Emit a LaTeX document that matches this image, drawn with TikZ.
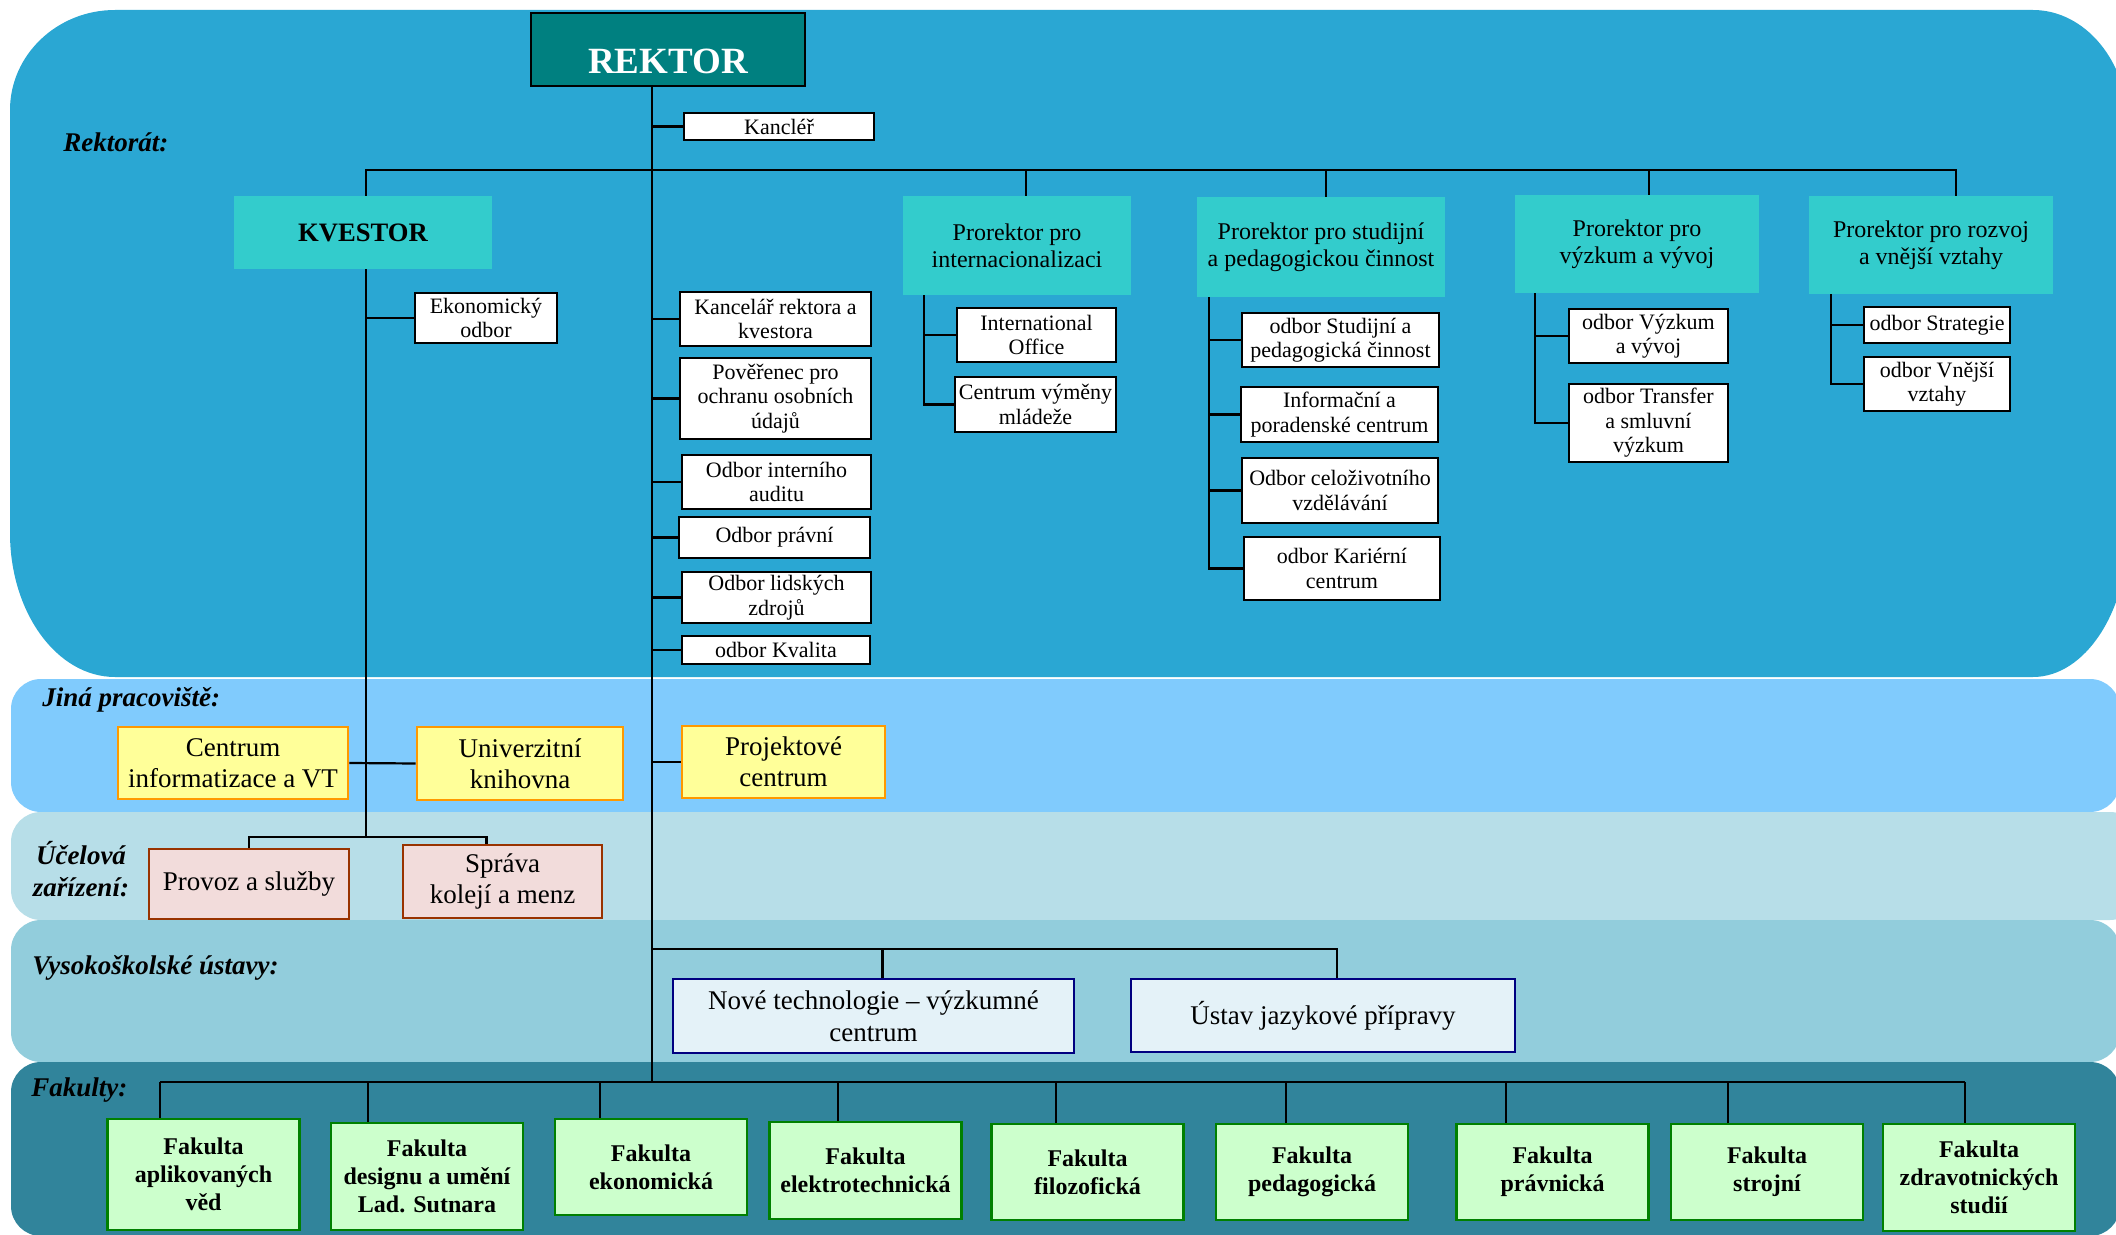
\documentclass[tikz,border=0pt]{standalone}
\usepackage{fontspec}
\setmainfont{Liberation Serif}

\definecolor{rektoratbg}{RGB}{42,167,211}
\definecolor{jinabg}{RGB}{128,203,253}
\definecolor{ucelbg}{RGB}{183,222,232}
\definecolor{vysokbg}{RGB}{146,205,220}
\definecolor{fakbg}{RGB}{49,132,155}
\definecolor{rektorfill}{RGB}{0,128,128}
\definecolor{headfill}{RGB}{51,204,204}
\definecolor{yellowfill}{RGB}{255,255,153}
\definecolor{orangeline}{RGB}{255,153,0}
\definecolor{pinkfill}{RGB}{242,220,219}
\definecolor{brownline}{RGB}{153,51,0}
\definecolor{ustavfill}{RGB}{228,242,248}
\definecolor{navyline}{RGB}{0,0,128}
\definecolor{fakfill}{RGB}{204,255,204}
\definecolor{greenline}{RGB}{0,128,0}

\tikzset{
    band/.style={rounded corners=15pt},
    link/.style={line width=1.1pt, black},
    sz/.style 2 args={minimum width=#1, minimum height=#2},
    rektorbox/.style={draw=black, line width=1pt, fill=rektorfill, text=white, inner sep=0pt, text height=24pt, text depth=0pt, font=\fontsize{18.5}{20}\selectfont\bfseries},
    headbox/.style={fill=headfill, align=center, inner sep=0pt, font=\fontsize{12}{13.5}\selectfont},
    unitbox/.style={draw=black, line width=1pt, fill=white, align=center, inner sep=0pt, font=\fontsize{11}{12.2}\selectfont},
    jinabox/.style={draw=orangeline, line width=1.3pt, fill=yellowfill, align=center, inner sep=0pt, font=\fontsize{13.5}{15.5}\selectfont},
    ucelbox/.style={draw=brownline, line width=1.2pt, fill=pinkfill, align=center, inner sep=0pt, font=\fontsize{13.5}{15.5}\selectfont},
    ustavbox/.style={draw=navyline, line width=1.2pt, fill=ustavfill, align=center, inner sep=0pt, font=\fontsize{13.5}{15.8}\selectfont},
    fakbox/.style={draw=greenline, line width=1.4pt, fill=fakfill, align=center, inner sep=0pt, font=\fontsize{12}{14}\selectfont\bfseries},
    bandlabel/.style={anchor=west, inner sep=0pt, font=\fontsize{13.5}{16}\selectfont\bfseries\itshape},
}

\begin{document}
\begin{tikzpicture}[x=0.5pt, y=-0.5pt]
    \useasboundingbox (0,0) rectangle (2116,1235);
    \clip (0,0) rectangle (2116,1235);

    % bands
    \fill[rektoratbg] (10,110) .. controls (10,55) and (57,10) .. (115,10) -- (2033,10)
        .. controls (2085,10) and (2128,61.5) .. (2128,125) -- (2128,532)
        .. controls (2128,611.5) and (2085,677) .. (2033,677) -- (115,677)
        .. controls (57,677) and (10,612.5) .. (10,533) -- cycle;
    \fill[jinabg, band] (11,679) rectangle (2120,812);
    \fill[ucelbg, band] (11,812) rectangle (2140,920);
    \fill[vysokbg, band] (11,920) rectangle (2120,1062);
    \fill[fakbg, band] (11,1062) rectangle (2120,1236);

    \node[bandlabel] (lrektorat) at (63,142) {Rektorát:};
    \node[bandlabel] (ljina) at (42,700) {Jiná pracoviště:};
    \node[bandlabel, anchor=center, align=center] (lucel) at (81,869) {Účelová\\zařízení:};
    \node[bandlabel] (lvysok) at (32,968) {Vysokoškolské ústavy:};
    \node[bandlabel] (lfak) at (31,1090) {Fakulty:};

    % rektorat
    \node[rektorbox, sz={137pt}{36.5pt}] (rektor) at (668,49.5) {REKTOR};
    \node[unitbox, sz={95pt}{13.5pt}] (kancler) at (779,126.5) {Kancléř};
    \node[headbox, sz={129pt}{36.5pt}, font=\fontsize{13.3}{15}\selectfont\bfseries] (kvestor) at (363,232.5) {KVESTOR};
    \node[unitbox, sz={71pt}{25pt}] (ekonom) at (486,318) {Ekonomický\\odbor};

    \node[unitbox, sz={95.5pt}{27pt}] (kancelar) at (775.5,319) {Kancelář rektora a\\kvestora};
    \node[unitbox, sz={95.5pt}{40.5pt}] (poverenec) at (775.5,398.5) {Pověřenec pro\\ochranu osobních\\údajů};
    \node[unitbox, sz={94.5pt}{27pt}] (audit) at (776.5,482) {Odbor interního\\auditu};
    \node[unitbox, sz={95.5pt}{20.5pt}] (pravni) at (774.5,537.5) {Odbor právní};
    \node[unitbox, sz={94.5pt}{25.5pt}] (lidske) at (776.5,597.5) {Odbor lidských\\zdrojů};
    \node[unitbox, sz={94pt}{14pt}] (kvalita) at (776,650) {odbor Kvalita};

    \node[headbox, sz={114pt}{49.5pt}] (prointer) at (1017,245.5) {Prorektor pro\\internacionalizaci};
    \node[unitbox, sz={79.5pt}{27pt}] (intoffice) at (1036.5,335) {International\\Office};
    \node[unitbox, sz={80.5pt}{27.5pt}] (cvm) at (1035.5,404.5) {Centrum výměny\\mládeže};

    \node[headbox, sz={124pt}{50pt}] (prostud) at (1321,247) {Prorektor pro studijní\\a pedagogickou činnost};
    \node[unitbox, sz={98.5pt}{27pt}] (odstud) at (1340.5,340) {odbor Studijní a\\pedagogická činnost};
    \node[unitbox, sz={98.5pt}{27.5pt}] (infcentrum) at (1339.5,414.5) {Informační a\\poradenské centrum};
    \node[unitbox, sz={98pt}{32.5pt}] (celoziv) at (1340,490.5) {Odbor celoživotního\\vzdělávání};
    \node[unitbox, sz={98pt}{31.5pt}] (karier) at (1342,568.5) {odbor Kariérní\\centrum};

    \node[headbox, sz={122pt}{49pt}] (provyzk) at (1637,244) {Prorektor pro\\výzkum a vývoj};
    \node[unitbox, sz={79.5pt}{27pt}] (odvyzk) at (1648.5,336) {odbor Výzkum\\a vývoj};
    \node[unitbox, sz={79.5pt}{39pt}] (transfer) at (1648.5,423) {odbor Transfer\\a smluvní\\výzkum};

    \node[headbox, sz={122pt}{49pt}] (prorozvoj) at (1931,245) {Prorektor pro rozvoj\\a vnější vztahy};
    \node[unitbox, sz={73pt}{18pt}] (strategie) at (1937,325) {odbor Strategie};
    \node[unitbox, sz={73pt}{27pt}] (vnejsi) at (1937,384) {odbor Vnější\\vztahy};

    % jina pracoviste, ucelova zarizeni, ustavy
    \node[jinabox, sz={115pt}{36pt}] (civt) at (233,763) {Centrum\\informatizace a VT};
    \node[jinabox, sz={103pt}{36.5pt}] (knihovna) at (520,763.5) {Univerzitní\\knihovna};
    \node[jinabox, sz={101.5pt}{36pt}] (projekt) at (783.5,762) {Projektové\\centrum};

    \node[ucelbox, sz={100pt}{35pt}] (provoz) at (249,884) {Provoz a služby};
    \node[ucelbox, sz={99.5pt}{36.5pt}] (sprava) at (502.5,881.5) {Správa\\kolejí a menz};

    \node[ustavbox, sz={200.5pt}{37pt}] (nove) at (873.5,1016) {Nové technologie -- výzkumné\\centrum};
    \node[ustavbox, sz={192pt}{36.5pt}] (ustav) at (1323,1015.5) {Ústav jazykové přípravy};

    % fakulty
    \coordinate (fbar) at (652,1082);
    \foreach \n/\cx/\cy/\h/\off/\txt in {
        1/203.5/1174.5/55.5/-21.75/{Fakulta\\aplikovaných\\věd},
        2/427/1176.5/53.5/-29.5/{Fakulta\\designu a umění\\Lad. Sutnara},
        3/651/1167/48/-25.5/{Fakulta\\ekonomická},
        4/865.5/1170.5/48.5/-13.75/{Fakulta\\elektrotechnická},
        5/1087.5/1172/48/-15.75/{Fakulta\\filozofická},
        6/1312/1172/48/-13/{Fakulta\\pedagogická},
        7/1552.5/1172/48/-23.25/{Fakulta\\právnická},
        8/1767/1172/48/-19.5/{Fakulta\\strojní},
        9/1979/1177.5/53.5/-7/{Fakulta\\zdravotnických\\studií}}
    {
        \node[fakbox, sz={96pt}{\h pt}] (fak\n) at (\cx,\cy) {\txt};
        \coordinate (f\n) at ([xshift=\off pt]fak\n.north);
        \draw[link] (f\n) -- (f\n |- fbar);
    }
    \draw[link] (f1 |- fbar) -- (f9 |- fbar);

    % spine from rektor
    \coordinate (spine) at ([xshift=-8pt]rektor.south);
    \draw[link] (spine) -- (spine |- fbar);
    \foreach \u in {kancler,kancelar,poverenec,audit,pravni,lidske,kvalita,projekt}
        \draw[link] (\u.west) -- (\u.west -| spine);

    % top bar
    \coordinate (tbar) at (652,170);
    \coordinate (dk) at ([xshift=1.5pt]kvestor.north);
    \coordinate (dinter) at ([xshift=4.5pt]prointer.north);
    \coordinate (dstud) at ([xshift=2.5pt]prostud.north);
    \coordinate (dvyzk) at ([xshift=6pt]provyzk.north);
    \coordinate (drozvoj) at ([xshift=12.5pt]prorozvoj.north);
    \draw[link] (dk) |- (tbar) -| (drozvoj);
    \foreach \d in {dinter,dstud,dvyzk}
        \draw[link] (\d) -- (\d |- tbar);

    % kvestor branch
    \coordinate (ks) at ([xshift=1.5pt]kvestor.south);
    \coordinate (kbar) at (366,837);
    \draw[link] (ks) -- (ks |- kbar);
    \draw[link] (ekonom.west) -- (ekonom.west -| ks);
    \draw[link] (civt.east) -- (knihovna.west);
    \coordinate (dsprava) at ([xshift=-8pt]sprava.north);
    \draw[link] (provoz.north) |- (kbar) -| (dsprava);

    % prorektor branches
    \coordinate (ib) at ([xshift=10.5pt]prointer.south west);
    \foreach \u in {intoffice,cvm}
        \draw[link] (ib) |- (\u.west);
    \coordinate (sb) at ([xshift=6pt]prostud.south west);
    \foreach \u in {odstud,infcentrum,celoziv,karier}
        \draw[link] (sb) |- (\u.west);
    \coordinate (vb) at ([xshift=10pt]provyzk.south west);
    \foreach \u in {odvyzk,transfer}
        \draw[link] (vb) |- (\u.west);
    \coordinate (rb) at ([xshift=11pt]prorozvoj.south west);
    \foreach \u in {strategie,vnejsi}
        \draw[link] (rb) |- (\u.west);

    % ustavy
    \coordinate (vbar) at (652,949);
    \coordinate (dnove) at ([xshift=4.5pt]nove.north);
    \coordinate (dustav) at ([xshift=7pt]ustav.north);
    \draw[link] (spine |- vbar) -| (dustav);
    \draw[link] (dnove) -- (dnove |- vbar);
\end{tikzpicture}
\end{document}
